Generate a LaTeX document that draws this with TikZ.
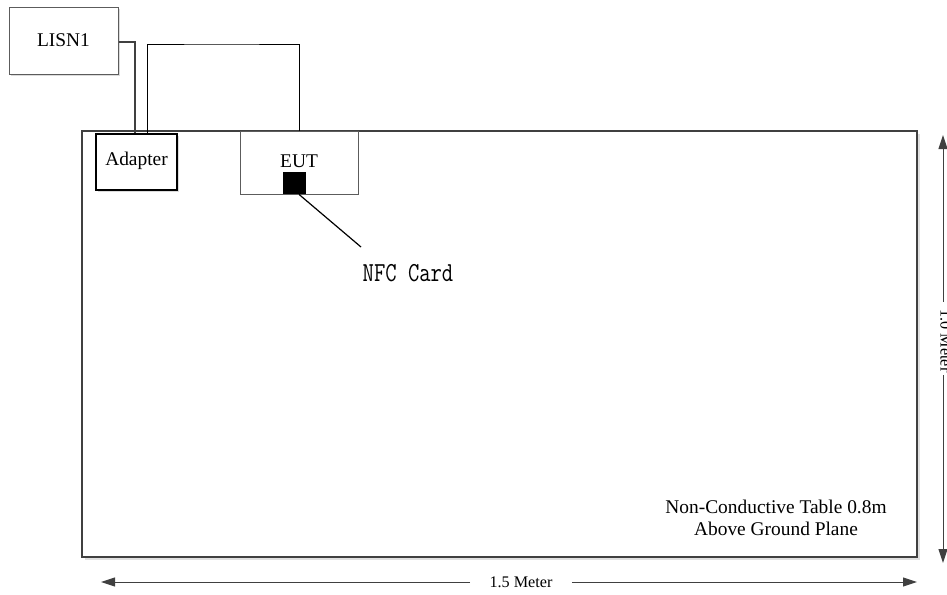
\documentclass[tikz,border=0pt]{standalone}
\usepackage{fontspec}
\setmainfont{Liberation Serif}
\usepackage{tikz}
\usetikzlibrary{arrows.meta, shadows}
\definecolor{edgegray}{HTML}{404040}
\definecolor{boxgray}{HTML}{5C5C5C}
\tikzset{
  boxnode/.style={rectangle, draw=boxgray, line width=0.5pt, fill=white, inner sep=0pt,
    drop shadow={shadow xshift=1.2pt, shadow yshift=-1.2pt, fill=black!14, opacity=1}},
  tablenode/.style={rectangle, draw=edgegray, line width=1.3pt, fill=white, inner sep=0pt,
    drop shadow={shadow xshift=1.5pt, shadow yshift=-1.5pt, fill=black!12, opacity=1}},
  boxtext/.style={font=\fontsize{9.7}{11}\selectfont, inner sep=0pt},
  dimtext/.style={font=\fontsize{8.1}{10}\selectfont, inner sep=0pt},
  wire/.style={draw=black, line width=0.5pt},
  powerwire/.style={draw=edgegray, line width=1pt},
  dimarr/.style={draw=edgegray, line width=0.5pt, -{Triangle[length=7pt, width=4.5pt]}},
}

\begin{document}
\begin{tikzpicture}[x=0.5pt, y=-0.5pt]
\useasboundingbox (0,0) rectangle (947,594);
\node[tablenode, minimum width=417.5pt, minimum height=213pt] (table) at (499.5,344) {};
\node[boxnode, minimum width=54.5pt, minimum height=33.5pt] (lisn) at (63.5,40.5) {};
\node[boxtext] (lisntext) at (63.5,40.5) {LISN1};
\node[boxnode, draw=black, line width=1pt, minimum width=40.5pt, minimum height=28pt] (adapter) at (136.5,162) {};
\node[boxtext] (adaptertext) at (136.5,161) {Adapter};
\node[rectangle, draw=boxgray, line width=0.5pt, minimum width=59pt, minimum height=31.5pt] (eut) at (299,162.5) {};
\node[boxtext] (euttext) at (299,161.5) {EUT};
\node[fill=black, minimum width=11.5pt, minimum height=11pt, inner sep=0pt] (nfc) at (294.5,183) {};
\coordinate (cardtip) at (361,247);
\node[font=\fontsize{11}{13}\ttfamily, inner sep=0pt] (card) at (408,273) {\scalebox{1}[1.25]{NFC Card}};
\node[boxtext, align=center] (tablenote) at (776,518) {Non-Conductive Table 0.8m\\Above Ground Plane};
\coordinate (wiretop) at (220,44);
\draw[powerwire] ([yshift=-0.75pt]lisn.east) -| ([xshift=-0.75pt]adapter.north);
\draw[wire] ([xshift=5.25pt]adapter.north) |- (wiretop) -| (eut.north);
\draw[wire, line width=0.6pt] ([xshift=2.25pt]nfc.south) -- (cardtip);
\node[dimtext, inner xsep=9.5pt, fill=white] (hlab) at (521,582) {1.5 Meter};
\coordinate (hleft) at (101,582);
\coordinate (hright) at (917,582);
\draw[dimarr] (hlab) -- (hleft);
\draw[dimarr] (hlab) -- (hright);
\node[dimtext, rotate=-90, anchor=south] (vlab) at (940,341) {1.0 Meter};
\coordinate (vgaptop) at (943,302);
\coordinate (vgapbot) at (943,375);
\coordinate (vtop) at (943,135);
\coordinate (vbot) at (943,563);
\draw[dimarr] (vgaptop) -- (vtop);
\draw[dimarr] (vgapbot) -- (vbot);
\end{tikzpicture}
\end{document}
